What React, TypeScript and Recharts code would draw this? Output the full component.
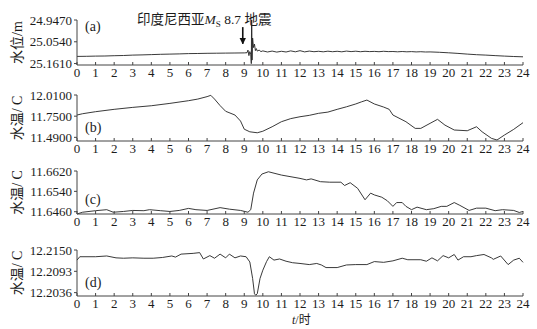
import { LineChart, Line, XAxis, YAxis, ReferenceLine } from "recharts";

const FONT = "'Liberation Serif', 'Times New Roman', 'Noto Sans CJK SC', serif";
const INK = "#1c1c1c";

const hourTicks = [0, 1, 2, 3, 4, 5, 6, 7, 8, 9, 10, 11, 12, 13, 14, 15, 16, 17, 18, 19, 20, 21, 22, 23, 24];

// (a) 水位 (埋深, 轴向下为正)
const levelHours = [
  0, 0.5, 1, 1.5, 2, 2.5, 3, 3.5, 4, 4.5, 5, 5.5, 6, 6.5, 7, 7.5, 8, 8.5, 9, 9.15, 9.2, 9.25, 9.3, 9.35,
  9.38, 9.4, 9.42, 9.45, 9.5, 9.55, 9.6, 9.65, 9.7, 9.8, 9.9, 10, 10.25, 10.5, 10.75, 11, 11.25, 11.5,
  11.75, 12, 12.25, 12.5, 12.75, 13, 13.25, 13.5, 13.75, 14, 14.25, 14.5, 14.75, 15, 15.25, 15.5, 15.75,
  16, 16.25, 16.5, 16.75, 17, 17.25, 17.5, 17.75, 18, 18.25, 18.5, 18.75, 19, 19.5, 20, 20.5, 21, 21.5,
  22, 22.5, 23, 23.5, 24,
];
const levelValues = [
  25.1258, 25.1253, 25.1243, 25.1238, 25.1224, 25.1214, 25.1194, 25.1184, 25.117, 25.1155, 25.1145,
  25.1135, 25.112, 25.1115, 25.1106, 25.1101, 25.1096, 25.1091, 25.1086, 25.1076, 25.0948, 25.1219,
  25.1022, 25.1145, 25.1613, 24.8731, 25.144, 25.0357, 25.0825, 25.0652, 25.0972, 25.0874, 25.0997,
  25.0948, 25.1022, 25.0987, 25.1041, 25.0997, 25.1046, 25.1007, 25.1041, 25.0987, 25.1032, 25.0977,
  25.1036, 25.0997, 25.1027, 25.1007, 25.1032, 25.1002, 25.1027, 25.1007, 25.1032, 25.0997, 25.1022,
  25.1002, 25.1027, 25.1007, 25.1022, 25.1012, 25.1027, 25.1007, 25.1022, 25.1017, 25.1032, 25.1017,
  25.1032, 25.1022, 25.1037, 25.1027, 25.1041, 25.1037, 25.1056, 25.1081, 25.111, 25.1145, 25.1174,
  25.1194, 25.1219, 25.1243, 25.1263, 25.1278,
];
const levelTicks = [24.947, 25.054, 25.161];

// (b) 水温
const tempBHours = [
  0, 0.3, 1, 2, 3, 4, 5, 6, 6.5, 7, 7.2, 7.4, 7.7, 8, 8.5, 8.8, 9, 9.3, 9.7, 10, 10.5, 11, 11.5, 12, 12.5,
  13, 13.5, 14, 14.5, 15, 15.3, 15.6, 16, 16.5, 16.8, 17, 17.7, 18.2, 18.5, 19, 19.4, 19.8, 20.3, 21, 21.5,
  21.8, 22.3, 22.6, 23, 23.5, 24,
];
const tempBValues = [
  11.764, 11.78, 11.805, 11.834, 11.858, 11.878, 11.907, 11.94, 11.96, 11.99, 12.006, 11.96, 11.88, 11.81,
  11.764, 11.69, 11.59, 11.558, 11.546, 11.565, 11.62, 11.682, 11.72, 11.743, 11.76, 11.785, 11.8, 11.834,
  11.865, 11.9, 11.925, 11.948, 11.9, 11.862, 11.834, 11.764, 11.682, 11.6, 11.6, 11.662, 11.711, 11.64,
  11.58, 11.571, 11.62, 11.558, 11.478, 11.457, 11.518, 11.588, 11.67,
];
const tempBTicks = [11.49, 11.75, 12.01];

// (c) 水温
const tempCHours = [
  0, 0.3, 1, 1.6, 1.95, 2.5, 3, 3.6, 3.9, 4.5, 5, 5.5, 6, 6.4, 7, 7.7, 8.2, 8.8, 9.2, 9.35, 9.5, 9.7, 9.95,
  10.3, 11, 12, 12.35, 12.6, 13.1, 13.6, 14.2, 14.4, 14.7, 15.1, 15.5, 15.8, 16, 16.4, 16.7, 17, 17.2, 17.5,
  17.7, 18, 18.3, 18.8, 19.2, 19.6, 19.9, 20.3, 20.6, 21.1, 21.5, 22, 22.5, 22.9, 23.5, 23.8, 24,
];
const tempCValues = [
  11.6451, 11.6458, 11.6464, 11.6468, 11.6458, 11.6461, 11.6465, 11.6464, 11.6468, 11.6464, 11.6461,
  11.6465, 11.6473, 11.6468, 11.6465, 11.6476, 11.647, 11.6465, 11.6458, 11.6468, 11.6533, 11.6585,
  11.6608, 11.6617, 11.6604, 11.6591, 11.6585, 11.6589, 11.6578, 11.6576, 11.6576, 11.6563, 11.6574,
  11.6552, 11.6507, 11.6533, 11.6526, 11.6517, 11.6503, 11.6481, 11.6496, 11.6496, 11.6481, 11.6468,
  11.6478, 11.6468, 11.6472, 11.6481, 11.6481, 11.6496, 11.6485, 11.6465, 11.6474, 11.6474, 11.6464,
  11.6468, 11.6465, 11.6457, 11.6461,
];
const tempCTicks = [11.646, 11.654, 11.662];

// (d) 水温
const tempDHours = [
  0, 0.15, 1, 1.6, 2.1, 2.5, 3, 3.6, 4.1, 4.6, 5.1, 5.3, 5.6, 6.25, 6.6, 6.8, 7.15, 7.4, 7.7, 8, 8.2, 8.5,
  8.8, 9.1, 9.3, 9.45, 9.55, 9.62, 9.7, 9.85, 10, 10.2, 10.35, 10.6, 10.9, 11.25, 11.6, 12, 12.5, 12.9,
  13.15, 13.4, 14, 14.5, 15, 15.6, 16, 16.5, 17, 17.5, 17.8, 18.5, 18.8, 19.1, 19.4, 19.7, 20, 20.3, 20.5,
  20.8, 21.2, 21.5, 21.9, 22.3, 22.4, 22.8, 23.2, 23.5, 23.8, 24,
];
const tempDValues = [
  12.2123, 12.2132, 12.2132, 12.2134, 12.2129, 12.2128, 12.2129, 12.2128, 12.2128, 12.213, 12.2134,
  12.2131, 12.2139, 12.2141, 12.2143, 12.2126, 12.2135, 12.2128, 12.2139, 12.2129, 12.2139, 12.2129,
  12.2134, 12.2132, 12.2118, 12.2074, 12.2033, 12.2029, 12.2033, 12.2074, 12.2096, 12.2119, 12.2132,
  12.2123, 12.2126, 12.212, 12.2116, 12.2114, 12.2111, 12.2114, 12.211, 12.2103, 12.2103, 12.211,
  12.2111, 12.2111, 12.2119, 12.2117, 12.2121, 12.2128, 12.2124, 12.2124, 12.212, 12.2129, 12.2121,
  12.2135, 12.2129, 12.2138, 12.2123, 12.2132, 12.2132, 12.2135, 12.2138, 12.2129, 12.2125, 12.2134,
  12.2111, 12.2123, 12.2128, 12.2117,
];
const tempDTicks = [12.2036, 12.2093, 12.215];

const toRows = (hours: number[], values: number[]) => hours.map((t, i) => ({ t, v: values[i] }));

const tickStyle = { fontSize: 13, fill: INK, fontFamily: FONT };
const axisStroke = "#444";

type PanelProps = {
  height: number;
  top: number;
  bottom?: number;
  rows: { t: number; v: number }[];
  domain: [number, number];
  ticks: number[];
  reversed?: boolean;
  overflow?: boolean;
  yLabel: string;
  children?: React.ReactNode;
};

function Panel({ height, top, bottom = 0, rows, domain, ticks, reversed, overflow, yLabel, children }: PanelProps) {
  return (
    <LineChart
      width={537}
      height={height}
      data={rows}
      margin={{ top, right: 14, bottom, left: 0 }}
      style={{ fontFamily: FONT }}
    >
      <XAxis
        dataKey="t"
        type="number"
        domain={[0, 24]}
        ticks={hourTicks}
        interval={0}
        height={17}
        tick={tickStyle}
        tickSize={-3}
        tickMargin={6}
        stroke={axisStroke}
      />
      <YAxis
        type="number"
        domain={domain}
        ticks={ticks}
        reversed={reversed}
        allowDataOverflow={overflow}
        width={77}
        tick={tickStyle}
        tickSize={3}
        tickMargin={2}
        interval={0}
        stroke={axisStroke}
        tickFormatter={(v: number) => v.toFixed(4)}
        label={{
          value: yLabel,
          angle: -90,
          position: "insideLeft",
          offset: 17,
          textAnchor: "middle",
          fontSize: 14,
          fill: INK,
          fontFamily: FONT,
        }}
      />
      <Line
        type="linear"
        dataKey="v"
        stroke="#222"
        strokeWidth={0.9}
        dot={false}
        isAnimationActive={false}
      />
      {children}
    </LineChart>
  );
}

const tagStyle = { fontSize: 14, fill: INK, fontFamily: FONT };

export default function App() {
  return (
    <div style={{ position: "relative", width: 537, height: 329, background: "#fff" }}>
      <style>{`body{margin:0} .level-panel .recharts-line{clip-path:none}`}</style>
      <div className="level-panel" style={{ position: "absolute", left: 0, top: 0 }}>
        <Panel
          height={82}
          top={20}
          rows={toRows(levelHours, levelValues)}
          domain={[24.947, 25.168]}
          ticks={levelTicks}
          reversed
          overflow
          yLabel="水位/m"
        >
          <defs>
            <marker id="quakeArrow" viewBox="0 0 10 10" refX="9" refY="5" markerWidth="4" markerHeight="5" orient="auto">
              <path d="M0,0 L10,5 L0,10 z" fill="#111" />
            </marker>
          </defs>
          <ReferenceLine
            segment={[
              { x: 8.92, y: 24.982 },
              { x: 8.92, y: 25.064 },
            ]}
            stroke="#111"
            strokeWidth={1.6}
            markerEnd="url(#quakeArrow)"
          />
          <text x={85} y={31} {...tagStyle}>(a)</text>
          <text x={137} y={24} fontSize={13.5} fill={INK} fontFamily={FONT}>
            印度尼西亚
            <tspan fontStyle="italic">M</tspan>
            <tspan fontSize={9} dy={3}>S</tspan>
            <tspan dy={-3}> 8.7 地震</tspan>
          </text>
        </Panel>
      </div>
      <div style={{ position: "absolute", left: 0, top: 82 }}>
        <Panel
          height={76}
          top={13}
          rows={toRows(tempBHours, tempBValues)}
          domain={[11.445, 12.01]}
          ticks={tempBTicks}
          yLabel="水温/ C"
        >
          <text x={85} y={50} {...tagStyle}>(b)</text>
        </Panel>
      </div>
      <div style={{ position: "absolute", left: 0, top: 158 }}>
        <Panel
          height={73}
          top={13}
          rows={toRows(tempCHours, tempCValues)}
          domain={[11.6452, 11.662]}
          ticks={tempCTicks}
          yLabel="水温/ C"
        >
          <text x={85} y={46} {...tagStyle}>(c)</text>
        </Panel>
      </div>
      <div style={{ position: "absolute", left: 0, top: 231 }}>
        <Panel
          height={98}
          top={19}
          bottom={16}
          rows={toRows(tempDHours, tempDValues)}
          domain={[12.2027, 12.215]}
          ticks={tempDTicks}
          yLabel="水温/ C"
        >
          <text x={85} y={56} {...tagStyle}>(d)</text>
          <text x={292} y={93} fontSize={12} fill={INK} fontFamily={FONT}>
            <tspan fontStyle="italic">t</tspan>/时
          </text>
        </Panel>
      </div>
    </div>
  );
}
